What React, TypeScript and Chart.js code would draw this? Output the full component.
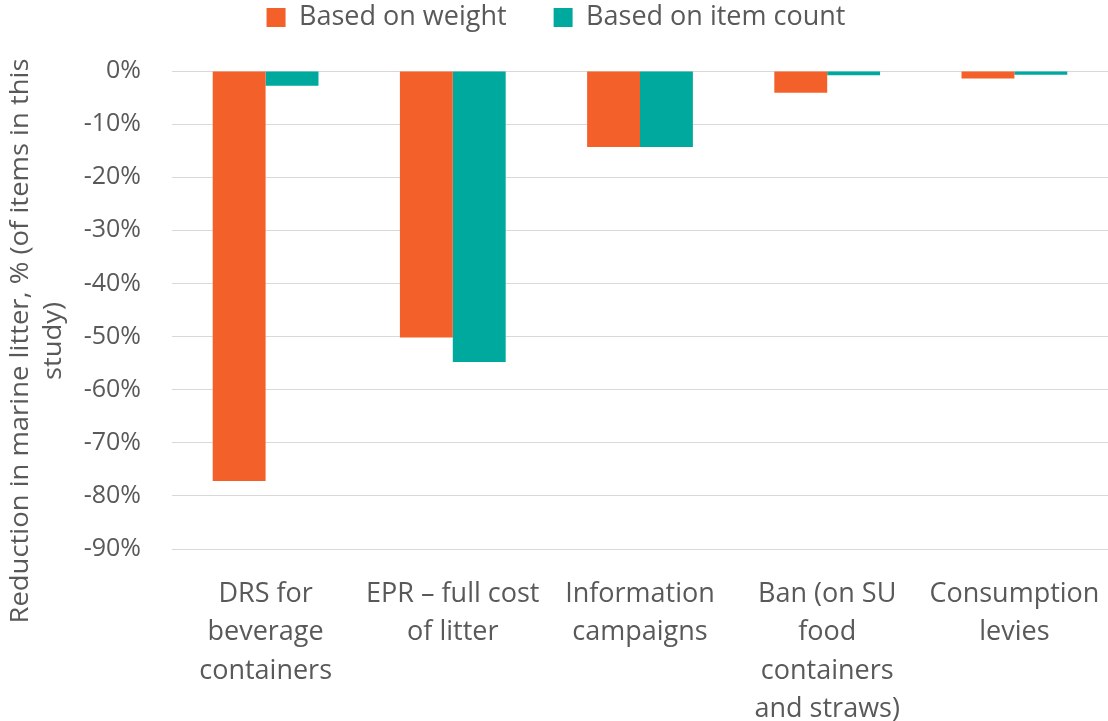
import React, { useEffect, useRef } from "react";
import { Chart, registerables } from "chart.js";

Chart.register(...registerables);

const categories: string[][] = [
  ["DRS for", "beverage", "containers"],
  ["EPR – full cost", "of litter"],
  ["Information", "campaigns"],
  ["Ban (on SU", "food", "containers", "and straws)"],
  ["Consumption", "levies"],
];
const seriesNames = ["Based on weight", "Based on item count"];
const weightValues = [-77.2, -50.2, -14.3, -4.1, -1.4];
const itemCountValues = [-2.8, -54.8, -14.3, -0.8, -0.7];
const yTitleLines = ["Reduction in marine litter, % (of items in this", "study)"];
const yMin = -90;
const yMax = 0;
const yStep = 10;

const ORANGE = "#F4602A";
const TEAL = "#00A99D";
const TEXT = "#595959";
const GRID = "#D9D9D9";
const FONT = '"Open Sans", "DejaVu Sans", sans-serif';

const LEGEND_DX = 2;
const LEGEND_DY = -43;

const customPlugin = {
  id: "customLayout",
  beforeLayout(chart: any) {
    const lg = chart.legend;
    if (lg && !lg._patched) {
      const fit = lg.fit.bind(lg);
      lg.fit = function () {
        fit();
        this.height = 71;
      };
      const draw = lg.draw.bind(lg);
      lg.draw = function () {
        const t = this.top, l = this.left, r = this.right;
        this.top = t + LEGEND_DY;
        this.left = l + LEGEND_DX;
        this.right = r + LEGEND_DX;
        draw();
        this.top = t;
        this.left = l;
        this.right = r;
      };
      lg._patched = true;
    }
  },
  afterDraw(chart: any) {
    const ctx = chart.ctx;
    ctx.save();
    ctx.fillStyle = TEXT;
    ctx.font = `26px ${FONT}`;
    ctx.textAlign = "center";
    ctx.textBaseline = "middle";
    const w0 = ctx.measureText(yTitleLines[0]).width;
    const sx = 565 / w0;
    yTitleLines.forEach((line, i) => {
      ctx.save();
      ctx.translate(21 + i * 33, 341);
      ctx.rotate(-Math.PI / 2);
      ctx.scale(sx, 1);
      ctx.fillText(line, 0, 0);
      ctx.restore();
    });
    ctx.restore();
  },
};

export default function App() {
  const ref = useRef<HTMLCanvasElement | null>(null);
  useEffect(() => {
    if (!ref.current) return;
    const chart = new Chart(ref.current, {
      type: "bar",
      data: {
        labels: categories,
        datasets: [
          { label: seriesNames[0], data: weightValues, backgroundColor: ORANGE, borderWidth: 0 },
          { label: seriesNames[1], data: itemCountValues, backgroundColor: TEAL, borderWidth: 0 },
        ],
      },
      options: {
        animation: false,
        responsive: true,
        maintainAspectRatio: false,
        layout: { padding: 0 },
        datasets: { bar: { barPercentage: 1, categoryPercentage: 0.565 } },
        plugins: {
          legend: {
            position: "top",
            labels: {
              color: TEXT,
              font: { family: FONT, size: 27 },
              boxWidth: 19,
              boxHeight: 19,
              padding: 47,
            },
          },
          tooltip: { enabled: false },
          title: { display: false },
        },
        scales: {
          x: {
            grid: { display: false },
            border: { display: false },
            ticks: {
              color: TEXT,
              font: { family: FONT, size: 27, lineHeight: 1.42 },
              maxRotation: 0,
              minRotation: 0,
              autoSkip: false,
              padding: 18,
            },
            afterFit(scale: any) {
              scale.height = 172;
              scale.paddingLeft = 0;
              scale.paddingRight = 0;
            },
          },
          y: {
            min: yMin,
            max: yMax,
            grid: { color: GRID, lineWidth: 1, drawTicks: false },
            border: { display: false },
            ticks: {
              stepSize: yStep,
              color: TEXT,
              font: { family: FONT, size: 25 },
              padding: 31,
              callback: (v: any) => `${v}%`,
            },
            afterFit(scale: any) {
              scale.width = 172;
            },
          },
        },
      },
      plugins: [customPlugin],
    });
    return () => chart.destroy();
  }, []);
  return (
    <div style={{ position: "fixed", left: 0, top: 0, width: 1108, height: 721, background: "#fff" }}>
      <canvas ref={ref} />
    </div>
  );
}
